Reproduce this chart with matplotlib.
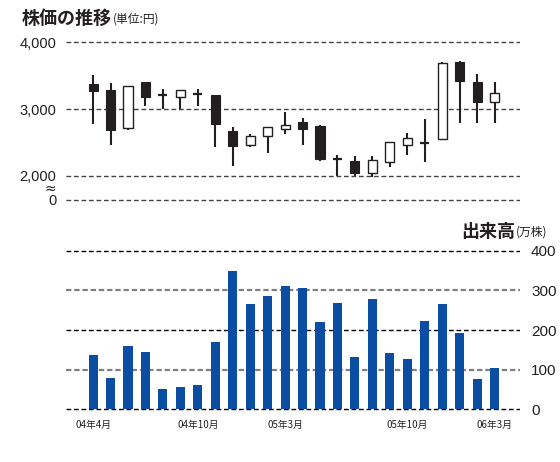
import numpy as np
import matplotlib.pyplot as plt

# monthly candles, 04/4 .. 06/3
opens = [3370, 3280, 2710, 3400, 3205, 3185, 3228, 3205, 2670, 2465, 2590, 2700,
         2800, 2750, 2260, 2230, 2040, 2205, 2465, 2500, 2550, 3705, 3400, 3110]
closes = [3270, 2690, 3340, 3185, 3205, 3283, 3228, 2770, 2445, 2600, 2730, 2760,
          2700, 2250, 2260, 2040, 2235, 2505, 2560, 2500, 3685, 3420, 3110, 3240]
highs = [3510, 3390, 3345, 3410, 3298, 3285, 3298, 3215, 2730, 2625, 2735, 2950,
         2870, 2760, 2310, 2295, 2305, 2510, 2635, 2856, 3700, 3710, 3525, 3400]
lows = [2780, 2460, 2690, 3050, 3000, 3000, 3050, 2435, 2150, 2435, 2340, 2630,
        2470, 2220, 2005, 2005, 1990, 2135, 2315, 2206, 2545, 2795, 2795, 2795]

# volume (万株)
volume = [137, 79, 160, 145, 51, 57, 62, 170, 350, 267, 287, 312,
          307, 221, 269, 132, 279, 143, 127, 224, 267, 193, 77, 105]

tick_idx = [0, 6, 11, 18, 23]
tick_labels = ['04年4月', '04年10月', '05年3月', '05年10月', '06年3月']

price_ticks = [2000, 3000, 4000]
vol_ticks = [0, 100, 200, 300, 400]

jp = ['Noto Sans CJK JP', 'DejaVu Sans']
num = ['Liberation Sans', 'DejaVu Sans']

W, H = 560, 462
fig = plt.figure(figsize=(W / 100, H / 100), dpi=100)


def rect(x0, y0, x1, y1):
    return [x0 / W, 1 - y1 / H, (x1 - x0) / W, (y1 - y0) / H]


x = np.arange(len(opens))
xlim = (-1.55, 24.46)
bw = 0.52

"""
Candlestick chart
"""
ax1 = fig.add_axes(rect(66, 38, 520, 204))
ax1.set_xlim(*xlim)
zero_pos = 1642  # where the broken axis puts "0"
ax1.set_ylim(1582, 4060)

for yv in price_ticks + [zero_pos]:
    ax1.axhline(yv, color='#444444', lw=1.0, ls=(0, (3.4, 2.0)), zorder=0)

o = np.array(opens)
c = np.array(closes)
ax1.vlines(x, lows, highs, color='#231f20', lw=1.5, zorder=2)
down = c < o
up = c > o
flat = c == o
ax1.bar(x[down], (o - c)[down], bottom=c[down], width=bw,
        color='#231f20', edgecolor='#231f20', lw=0.8, zorder=3)
ax1.bar(x[up], (c - o)[up], bottom=o[up], width=bw,
        color='white', edgecolor='#231f20', lw=1.0, zorder=3)
ax1.hlines(o[flat], x[flat] - bw / 2, x[flat] + bw / 2,
           color='#231f20', lw=1.6, zorder=3)

ax1.set_yticks(price_ticks + [zero_pos])
ax1.set_yticklabels([f'{v:,}' for v in price_ticks] + ['0'],
                    family=num, fontsize=10.5, color='#231f20')
ax1.tick_params(axis='y', length=0, pad=7)
ax1.set_xticks([])
for s in ax1.spines.values():
    s.set_visible(False)
ax1.text(-0.021, 0.092, '≈', transform=ax1.transAxes, ha='right',
         va='center', fontsize=10, family='DejaVu Sans', color='#231f20')

fig.text(22 / W, 1 - 18 / H, '株価の推移', family=jp, fontsize=13,
         fontweight='bold', va='center', ha='left', color='#231f20')
fig.text(113 / W, 1 - 19 / H, '(単位:円)', family=jp, fontsize=8.5,
         va='center', ha='left', color='#231f20')

"""
Volume chart
"""
ax2 = fig.add_axes(rect(66, 247, 520, 413))
ax2.set_xlim(*xlim)
ax2.set_ylim(-10, 410)
for yv in vol_ticks:
    if yv % 200 == 0:
        ax2.axhline(yv, color='black', lw=1.0, ls=(0, (3.4, 2.0)), zorder=0)
    else:
        ax2.axhline(yv, color='#808080', lw=1.6, ls=(0, (2.4, 1.3)), zorder=0)
ax2.bar(x, volume, width=bw, color='#0b4da2', zorder=2)

ax2.yaxis.tick_right()
ax2.set_yticks(vol_ticks)
ax2.set_yticklabels([str(v) for v in vol_ticks], family=num,
                    fontsize=11, color='#231f20')
ax2.tick_params(axis='y', length=0, pad=8)
ax2.set_xticks(tick_idx)
ax2.set_xticklabels(tick_labels, family=jp, fontsize=7, color='#222222')
ax2.tick_params(axis='x', length=0, pad=5)
for s in ax2.spines.values():
    s.set_visible(False)

fig.text(515 / W, 1 - 231 / H, '出来高', family=jp, fontsize=13,
         fontweight='bold', va='center', ha='right', color='#231f20')
fig.text(516 / W, 1 - 232 / H, '(万株)', family=jp, fontsize=8.5,
         va='center', ha='left', color='#231f20')

fig.savefig('out.png', dpi=100)
